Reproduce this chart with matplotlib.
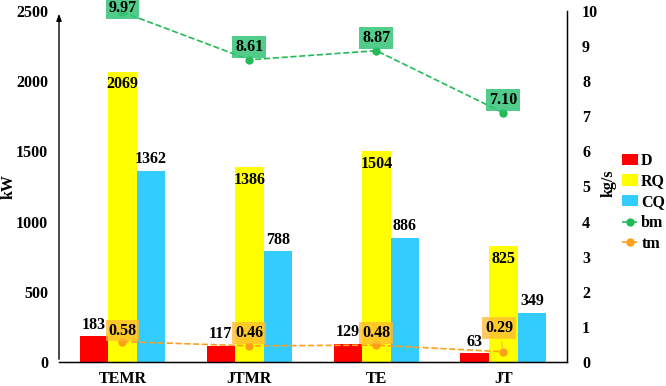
import matplotlib.pyplot as plt
import numpy as np

plt.rcParams['font.family'] = ['Liberation Serif', 'DejaVu Serif']
plt.rcParams['font.weight'] = 'bold'

cases = ['TEMR', 'JTMR', 'TE', 'JT']
D = [183, 117, 129, 63]
RQ = [2069, 1386, 1504, 825]
CQ = [1362, 788, 886, 349]
bm = [9.97, 8.61, 8.87, 7.10]
tm = [0.58, 0.46, 0.48, 0.29]

x = np.arange(len(cases))
w = 0.225
fs = 11.5

fig = plt.figure(figsize=(6.66, 3.86), dpi=100)
ax = fig.add_axes([0.0886, 0.0622, 0.7624, 0.9093])
ax2 = ax.twinx()

b1 = ax.bar(x - w, D, w, color='#ff0000', label='D')
b2 = ax.bar(x, RQ, w, color='#ffff00', label='RQ')
b3 = ax.bar(x + w, CQ, w, color='#33ccff', label='CQ')

for xi, v in zip(x - w, D):
    ax.text(xi, v + 25, str(v), ha='center', va='bottom', fontsize=fs, fontweight='bold')
for xi, v in zip(x, RQ):
    ax.text(xi, v - 35, str(v), ha='center', va='top', fontsize=fs, fontweight='bold')
for xi, v in zip(x + w, CQ):
    ax.text(xi, v + 25, str(v), ha='center', va='bottom', fontsize=fs, fontweight='bold')

ax.set_xlim(-0.5, 3.5)
ax.set_ylim(0, 2500)
ax.set_yticks([0, 500, 1000, 1500, 2000, 2500])
ax.set_xticks(x)
ax.set_xticklabels(cases)
ax.tick_params(length=0, labelsize=fs, pad=8)
ax.tick_params(axis='x', pad=6.5)
ax.set_ylabel('kW', fontsize=fs, fontweight='bold')
ax.yaxis.set_label_coords(-0.084, 0.5)

l1, = ax2.plot(x, bm, '--', color='#22bb55', marker='o', markersize=5, lw=1.2, label='bm')
l2, = ax2.plot(x, tm, '--', color='#ff9f1a', marker='o', markersize=5, lw=1.2, label='tm')
ax2.set_ylim(0, 10)
ax2.set_yticks(range(11))
ax2.tick_params(length=0, labelsize=fs, pad=11)
ax2.set_ylabel('kg/s', fontsize=fs, fontweight='bold')
ax2.yaxis.set_label_coords(1.066, 0.51)

bm_off = [3, 9, 9, 9]
for xi, v, dy in zip(x, bm, bm_off):
    ax2.annotate(f'{v:.2f}', (xi, v), xytext=(0, dy), textcoords='offset points',
                 ha='center', va='center', fontsize=fs, fontweight='bold',
                 bbox=dict(boxstyle='square,pad=0.18', fc='#33c477', ec='none', alpha=0.85),
                 annotation_clip=False)
tm_off = [8, 9, 9, 17]
for xi, v, dy in zip(x, tm, tm_off):
    ax2.annotate(f'{v:.2f}', (xi, v), xytext=(-3 if dy > 10 else 0, dy), textcoords='offset points',
                 ha='center', va='center', fontsize=fs, fontweight='bold',
                 bbox=dict(boxstyle='square,pad=0.18', fc='#ffb733', ec='none', alpha=0.75),
                 arrowprops=dict(arrowstyle='-', color='#ffb733', lw=0.8) if dy > 10 else None)

for a in (ax, ax2):
    a.spines['top'].set_visible(False)
    a.spines['left'].set_visible(False)
ax2.spines['right'].set_linewidth(1.0)
ax2.spines['bottom'].set_linewidth(1.0)
ax.annotate('', xy=(0, 1.0), xycoords='axes fraction', xytext=(0, 0),
            arrowprops=dict(arrowstyle='-|>,head_width=0.15,head_length=0.4', color='black', lw=1.0))

fig.legend(handles=[b1, b2, b3, l1, l2], loc='upper left', bbox_to_anchor=(0.922, 0.625),
           frameon=False, fontsize=fs, handlelength=1.0, handletextpad=0.2,
           labelspacing=0.3, borderpad=0)

plt.savefig('out.png', dpi=100)
